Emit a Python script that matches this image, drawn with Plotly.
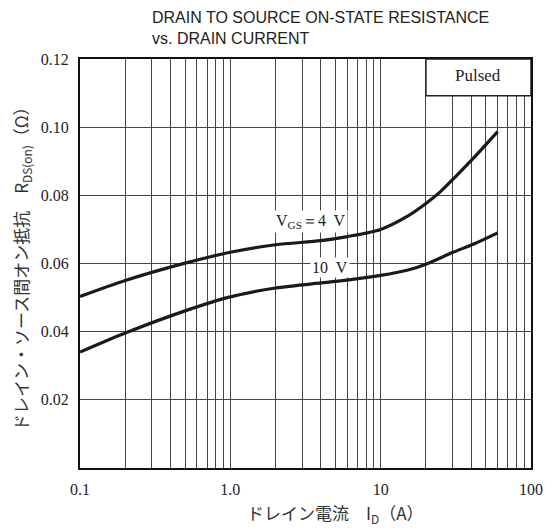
import math
import plotly.graph_objects as go

# ---- data ----
current_4v = [0.1, 0.2, 0.5, 1.0, 2.0, 4.0, 6.0, 10, 15, 20, 25, 32, 42, 60]
rds_4v = [0.0503, 0.0550, 0.0601, 0.0633, 0.0655, 0.0667, 0.0679, 0.0700,
          0.0738, 0.0776, 0.0811, 0.0858, 0.0912, 0.0987]

current_10v = [0.1, 0.2, 0.5, 1.0, 2.0, 4.0, 5.4, 10, 15, 20, 30, 42, 60]
rds_10v = [0.0340, 0.0396, 0.0461, 0.0502, 0.0528, 0.0543, 0.0549, 0.0565, 0.0580,
           0.0598, 0.0632, 0.0658, 0.0690]

x_tick_vals = [0.1, 1.0, 10, 100]
x_tick_text = ["0.1", "1.0", "10", "100"]
y_tick_vals = [0.02, 0.04, 0.06, 0.08, 0.10, 0.12]
y_tick_text = ["0.02", "0.04", "0.06", "0.08", "0.10", "0.12"]

label_4v = "V<sub>GS</sub>＝4  V"
label_10v = "10  V"
label_pulsed = "Pulsed"
title_text = "DRAIN TO SOURCE ON-STATE RESISTANCE<br>vs. DRAIN CURRENT"
x_title = "ドレイン電流　I<sub>D</sub>（A）"
y_title = "ドレイン・ソース間オン抵抗　R<sub>DS(on)</sub>（Ω）"

# grid positions 1..9 x decade
grid_x = [m * 10 ** e for e in (-1, 0, 1) for m in range(1, 10)] + [100]
x_text_all = []
for v in grid_x:
    lbl = ""
    for t, s in zip(x_tick_vals, x_tick_text):
        if abs(v - t) < 1e-9:
            lbl = s
    x_text_all.append(lbl)

serif = "Liberation Serif, Times New Roman, serif"
cjk = "Noto Sans CJK JP"

L, R, T, B = 80, 16, 59, 60
W, H = 547, 528
PW, PH = W - L - R, H - T - B


def px_x(p):
    return (p - L) / PW


def px_y(p):
    return (H - B - p) / PH


fig = go.Figure()
for xs, ys in ((current_4v, rds_4v), (current_10v, rds_10v)):
    fig.add_trace(go.Scatter(x=xs, y=ys, mode="lines",
                             line=dict(color="#1a1a1a", width=3.2, shape="spline", smoothing=0.8),
                             showlegend=False, hoverinfo="skip"))

# Pulsed box
fig.add_shape(type="rect", xref="x", yref="y", x0=20, x1=100, y0=0.1092, y1=0.12,
              fillcolor="white", line=dict(color="#222", width=1.5), layer="above")

fig.add_annotation(x=math.log10(math.sqrt(20 * 100)), y=0.1152, xref="x", yref="y",
                   text=label_pulsed, showarrow=False,
                   font=dict(family=serif, size=17, color="#222"))
fig.add_annotation(x=math.log10(3.45), y=0.0724, xref="x", yref="y", text=label_4v,
                   showarrow=False, bgcolor="white", borderpad=1,
                   font=dict(family=serif, size=16, color="#222"))
fig.add_annotation(x=math.log10(4.6), y=0.0589, xref="x", yref="y", text=label_10v,
                   showarrow=False, bgcolor="white", borderpad=1,
                   font=dict(family=serif, size=16, color="#222"))

# title
fig.add_annotation(x=px_x(150), y=px_y(49), xref="paper", yref="paper",
                   xanchor="left", yanchor="bottom", align="left", showarrow=False,
                   text=title_text,
                   font=dict(family="Liberation Sans", size=16, color="#222"))

# axis titles
fig.add_annotation(x=px_x(335), y=px_y(513), xref="paper", yref="paper",
                   xanchor="center", yanchor="middle", showarrow=False, text=x_title,
                   font=dict(family=cjk, size=17, color="#333"))
fig.add_annotation(x=px_x(21), y=px_y(265), xref="paper", yref="paper",
                   xanchor="center", yanchor="middle", showarrow=False, text=y_title,
                   textangle=-90, font=dict(family=cjk, size=17, color="#333"))

fig.update_xaxes(type="log", range=[-1, 2], tickvals=grid_x, ticktext=x_text_all,
                 showgrid=True, gridcolor="#444", gridwidth=1.1,
                 showline=True, linecolor="#111", linewidth=2, mirror=True,
                 ticks="", ticklabelstandoff=6,
                 tickfont=dict(family=serif, size=16, color="#222"),
                 zeroline=False, automargin=False)
fig.update_yaxes(range=[0, 0.12], tickvals=y_tick_vals, ticktext=y_tick_text,
                 showgrid=True, gridcolor="#444", gridwidth=1.1,
                 showline=True, linecolor="#111", linewidth=2, mirror=True,
                 ticks="", ticklabelstandoff=6,
                 tickfont=dict(family=serif, size=16, color="#222"),
                 zeroline=False, automargin=False)

fig.update_layout(width=W, height=H, margin=dict(l=L, r=R, t=T, b=B),
                  plot_bgcolor="white", paper_bgcolor="white",
                  font=dict(family=serif, size=16, color="#222"))

fig.write_html("out.html", config={"displayModeBar": False},
               post_script="document.body.style.margin='0';document.body.style.padding='0';")
